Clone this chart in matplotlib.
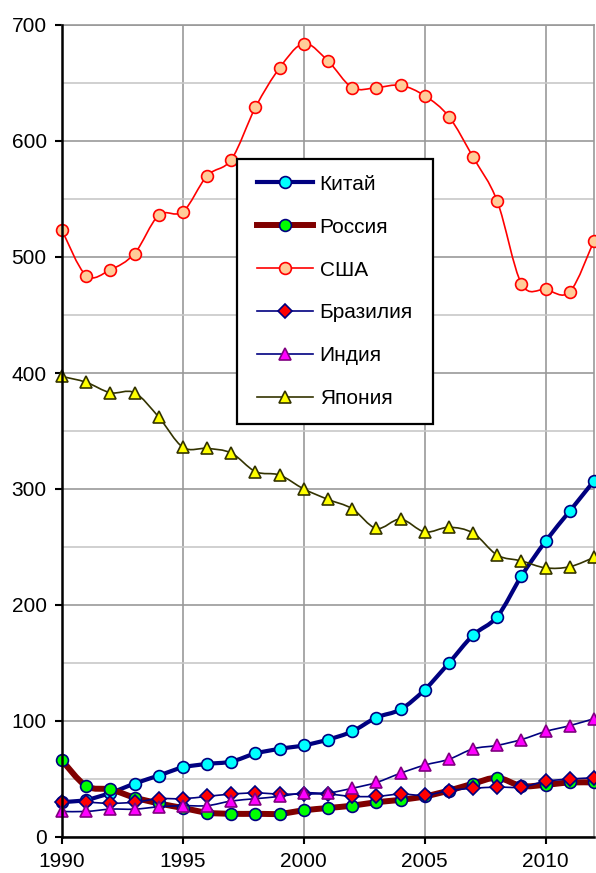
import numpy as np
import matplotlib
matplotlib.use("Agg")
import matplotlib.pyplot as plt
from matplotlib.path import Path
from matplotlib.patches import PathPatch, Rectangle
from matplotlib.lines import Line2D
from matplotlib.ticker import MultipleLocator

plt.rcParams['font.family'] = ['Liberation Sans', 'DejaVu Sans']

years = list(range(1990, 2013))

china = [30, 32, 38, 46, 53, 60, 63, 65, 72, 76, 79, 84, 91, 103, 110, 127, 150,
         174, 190, 225, 255, 281, 307]
russia = [66, 44, 41, 34, 29, 25, 21, 20, 20, 20, 23, 25, 27, 30, 32, 35, 40,
          46, 51, 44, 45, 47, 47]
usa = [523, 484, 489, 503, 536, 539, 570, 584, 629, 663, 684, 669, 646, 646, 648,
       639, 621, 586, 548, 477, 472, 470, 514]
brazil = [30, 30, 29, 30, 33, 33, 35, 37, 38, 37, 37, 37, 35, 35, 37, 36, 40,
          42, 43, 43, 48, 50, 51]
india = [22, 22, 24, 24, 26, 27, 27, 31, 33, 35, 38, 38, 42, 47, 55, 62, 67,
         76, 79, 84, 91, 96, 102]
japan = [397, 392, 383, 383, 362, 336, 335, 331, 315, 312, 300, 291, 283, 266, 274,
         263, 267, 262, 243, 238, 232, 233, 241]

labels = ["Китай", "Россия", "США", "Бразилия", "Индия", "Япония"]
series = [china, russia, usa, brazil, india, japan]

styles = [
    dict(color="#000080", lw=3.0, marker="o", ms=8.5, mfc="#00FFFF", mec="#000080", mew=1.2),
    dict(color="#800000", lw=4.3, marker="o", ms=8.5, mfc="#00FF00", mec="#000080", mew=1.2),
    dict(color="#FF0000", lw=1.2, marker="o", ms=8.5, mfc="#FFCC99", mec="#FF0000", mew=1.2),
    dict(color="#000080", lw=1.2, marker="D", ms=7.5, mfc="#FF0000", mec="#000080", mew=1.2),
    dict(color="#000080", lw=1.2, marker="^", ms=8.8, mfc="#FF00FF", mec="#800080", mew=1.2),
    dict(color="#333300", lw=1.2, marker="^", ms=8.8, mfc="#FFFF00", mec="#333300", mew=1.2),
]


def smooth_path(x, y):
    x = np.asarray(x, float)
    y = np.asarray(y, float)
    n = len(x)
    verts = [(x[0], y[0])]
    codes = [Path.MOVETO]
    for i in range(n - 1):
        p0 = np.array([x[max(i - 1, 0)], y[max(i - 1, 0)]])
        p1 = np.array([x[i], y[i]])
        p2 = np.array([x[i + 1], y[i + 1]])
        p3 = np.array([x[min(i + 2, n - 1)], y[min(i + 2, n - 1)]])
        c1 = p1 + (p2 - p0) / 6.0
        c2 = p2 - (p3 - p1) / 6.0
        verts += [tuple(c1), tuple(c2), tuple(p2)]
        codes += [Path.CURVE4] * 3
    return Path(verts, codes)


fig = plt.figure(figsize=(5.96, 8.73), dpi=100)
ax = fig.add_axes([62 / 596, 1 - 837 / 873, 532 / 596, 812 / 873])

handles = []
for k, (vals, st) in enumerate(zip(series, styles)):
    z = 3 + k * 2
    patch = PathPatch(smooth_path(years, vals), facecolor="none", edgecolor=st["color"],
                      lw=st["lw"], zorder=z, capstyle="round", joinstyle="round")
    ax.add_patch(patch)
    ax.plot(years, vals, linestyle="none", marker=st["marker"], ms=st["ms"],
            mfc=st["mfc"], mec=st["mec"], mew=st["mew"], zorder=z + 1, clip_on=False)
    handles.append(Line2D([], [], color=st["color"], lw=st["lw"], marker=st["marker"],
                          ms=st["ms"], mfc=st["mfc"], mec=st["mec"], mew=st["mew"]))

ax.set_xlim(1990, 2012)
ax.set_ylim(0, 700)
ax.xaxis.set_major_locator(MultipleLocator(5))
ax.yaxis.set_major_locator(MultipleLocator(100))
ax.yaxis.set_minor_locator(MultipleLocator(50))
ax.grid(True, which="major", color="#999999", lw=1.2, zorder=0)
ax.grid(True, which="minor", axis="y", color="#C8C8C8", lw=1.2, zorder=0)
ax.tick_params(axis="both", which="major", direction="out", length=5, width=1.5,
               labelsize=15, color="black", pad=6)
ax.tick_params(axis="y", which="minor", length=0)
for s in ["left", "bottom"]:
    ax.spines[s].set_color("black")
    ax.spines[s].set_linewidth(1.8)
    ax.spines[s].set_zorder(20)
for s in ["top", "right"]:
    ax.spines[s].set_color("#999999")
    ax.spines[s].set_linewidth(1.2)
ax.set_axisbelow(True)

# legend frame box
lx0, lx1 = (237 - 62) / 532, (433 - 62) / 532
ly0, ly1 = (837 - 424) / 812, (837 - 159) / 812
frame = Rectangle((lx0, ly0), lx1 - lx0, ly1 - ly0, transform=ax.transAxes,
                  facecolor="white", edgecolor="black", lw=1.6, zorder=29, clip_on=False)
ax.add_patch(frame)

leg = ax.legend(handles, labels, loc="center",
                bbox_to_anchor=((lx0 + lx1) / 2, (ly0 + ly1) / 2),
                fontsize=15, handlelength=2.7, handletextpad=0.3, labelspacing=1.15,
                borderpad=0.2, borderaxespad=0, frameon=False)
leg.set_zorder(30)

fig.savefig("out.png", dpi=100)
